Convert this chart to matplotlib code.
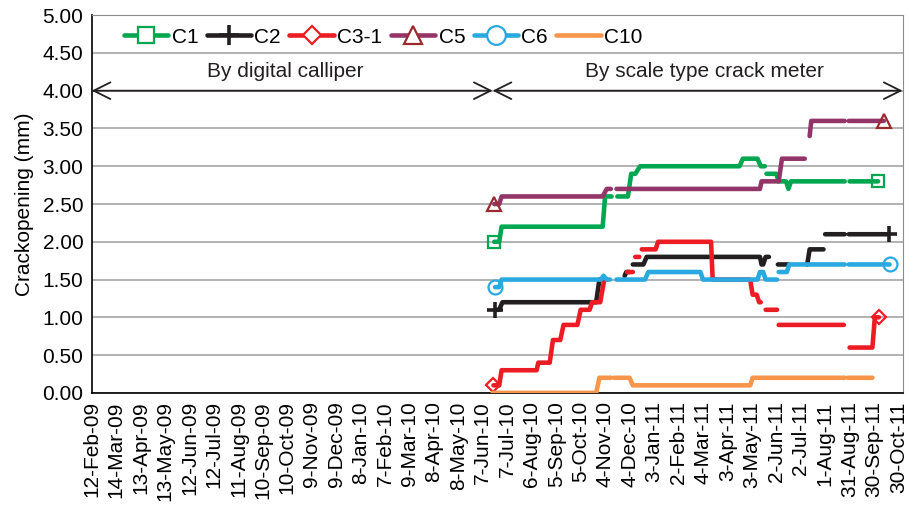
import matplotlib
matplotlib.use('Agg')
import matplotlib.pyplot as plt
from matplotlib.lines import Line2D
import numpy as np
import pandas as pd

plt.rcParams['font.family'] = ['Liberation Sans', 'DejaVu Sans']
nan = np.nan

# crack opening readings (mm), nan = no reading
c1_dates = ['2010-06-21', '2010-06-27', '2010-06-30', '2010-11-01', '2010-11-04', '2010-11-12', '2010-11-15',
            '2010-11-19', '2010-12-02', '2010-12-06', '2010-12-11', '2010-12-17', '2011-04-18', '2011-04-22',
            '2011-05-10', '2011-05-14', '2011-05-19', '2011-05-20', '2011-05-21', '2011-06-02', '2011-06-05',
            '2011-06-14', '2011-06-17', '2011-06-20', '2011-08-25', '2011-08-28', '2011-08-31', '2011-10-05']
c1_vals = [2.0, 2.0, 2.2, 2.2, 2.6, 2.6, nan, 2.6, 2.6, 2.9, 2.9, 3.0, 3.0, 3.1,
           3.1, 3.0, 3.0, nan, 2.9, 2.9, 2.8, 2.8, 2.7, 2.8, 2.8, nan, 2.8, 2.8]

c2_dates = ['2010-06-22', '2010-06-27', '2010-07-01', '2010-10-24', '2010-10-28', '2010-11-03', '2010-11-10',
            '2010-11-28', '2010-11-30', '2010-12-04', '2010-12-06', '2010-12-08', '2010-12-21', '2010-12-25',
            '2011-05-13', '2011-05-15', '2011-05-17', '2011-05-20', '2011-05-24', '2011-05-28', '2011-06-04',
            '2011-06-17', '2011-06-25', '2011-07-10', '2011-07-13', '2011-07-30', '2011-07-31', '2011-08-01',
            '2011-08-25', '2011-08-28', '2011-08-30', '2011-10-18']
c2_vals = [1.1, 1.1, 1.2, 1.2, 1.5, 1.5, nan, 1.55, 1.6, 1.6, nan, 1.7, 1.7, 1.8,
           1.8, 1.7, 1.7, 1.8, 1.8, nan, 1.7, 1.7, nan, 1.7, 1.9, 1.9, nan, 2.1,
           2.1, nan, 2.1, 2.1]

c3_dates = ['2010-06-20', '2010-06-27', '2010-06-30', '2010-08-12', '2010-08-14', '2010-08-28', '2010-09-01',
            '2010-09-10', '2010-09-14', '2010-10-01', '2010-10-05', '2010-10-16', '2010-10-19', '2010-10-29',
            '2010-11-03', '2010-11-06', '2010-11-15', '2010-12-01', '2010-12-08', '2010-12-09', '2010-12-11',
            '2010-12-16', '2010-12-17', '2010-12-19', '2011-01-05', '2011-01-08', '2011-03-14', '2011-03-16',
            '2011-05-01', '2011-05-04', '2011-05-09', '2011-05-12', '2011-05-14', '2011-05-17', '2011-05-20',
            '2011-06-03', '2011-06-04', '2011-06-05', '2011-08-24', '2011-08-28', '2011-08-31', '2011-09-28',
            '2011-10-01', '2011-10-06']
c3_vals = [0.1, 0.1, 0.3, 0.3, 0.4, 0.4, 0.7, 0.7, 0.9, 0.9, 1.1, 1.1, 1.2, 1.2,
           1.5, 1.5, nan, 1.6, 1.6, nan, 1.8, 1.8, nan, 1.9, 1.9, 2.0, 2.0, 1.5,
           1.5, 1.3, 1.3, 1.2, 1.2, nan, 1.1, 1.1, nan, 0.9, 0.9, nan, 0.6, 0.6,
           1.0, 1.0]

c5_dates = ['2010-06-21', '2010-06-27', '2010-06-30', '2010-11-01', '2010-11-06', '2010-11-11', '2010-11-14',
            '2010-11-18', '2011-05-13', '2011-05-15', '2011-06-05', '2011-06-09', '2011-07-07', '2011-07-10',
            '2011-07-13', '2011-07-15', '2011-08-25', '2011-08-28', '2011-08-30', '2011-10-12']
c5_vals = [2.5, 2.5, 2.6, 2.6, 2.7, 2.7, nan, 2.7, 2.7, 2.8, 2.8, 3.1, 3.1, nan,
           3.4, 3.6, 3.6, nan, 3.6, 3.6]

c6_dates = ['2010-06-22', '2010-06-27', '2010-06-30', '2010-10-30', '2010-11-02', '2010-11-06', '2010-11-10',
            '2010-11-14', '2010-11-18', '2010-12-23', '2010-12-27', '2011-03-01', '2011-03-04', '2011-05-10',
            '2011-05-13', '2011-05-17', '2011-05-20', '2011-06-03', '2011-06-04', '2011-06-05', '2011-06-15',
            '2011-06-18', '2011-08-25', '2011-08-28', '2011-08-30', '2011-10-19']
c6_vals = [1.4, 1.4, 1.5, 1.5, 1.55, 1.5, 1.5, nan, 1.5, 1.5, 1.6, 1.6, 1.5, 1.5,
           1.6, 1.6, 1.5, 1.5, nan, 1.6, 1.6, 1.7, 1.7, nan, 1.7, 1.7]

c10_dates = ['2010-06-19', '2010-10-24', '2010-10-28', '2010-11-11', '2010-11-13', '2010-11-15', '2010-12-04',
             '2010-12-08', '2011-05-01', '2011-05-04', '2011-08-25', '2011-08-28', '2011-08-29', '2011-09-28']
c10_vals = [0.0, 0.0, 0.2, 0.2, nan, 0.2, 0.2, 0.1, 0.1, 0.2, 0.2, nan, 0.2, 0.2]

names = ['C1', 'C2', 'C3-1', 'C5', 'C6', 'C10']
colors = ['#00A650', '#231F20', '#ED1C24', '#94356A', '#29A9E0', '#F7964A']
edge_colors = ['#00A650', '#231F20', '#ED1C24', '#9B2A30', '#29A9E0', '#F7964A']
markers = ['s', '+', 'D', '^', 'o', None]
msizes = [9, 11, 7, 10, 10, 0]
mews = [1.6, 2.6, 1.6, 1.6, 1.6, 1.6]

all_dates = [c1_dates, c2_dates, c3_dates, c5_dates, c6_dates, c10_dates]
all_vals = [c1_vals, c2_vals, c3_vals, c5_vals, c6_vals, c10_vals]

start = pd.Timestamp('2009-02-12')
switch = pd.Timestamp('2010-06-19')
tick_dates = pd.date_range(start, periods=34, freq='30D')
tick_labels = [f"{d.day}-{d.strftime('%b-%y')}" for d in tick_dates]

fig = plt.figure(figsize=(9.08, 5.05), dpi=100)
ax = fig.add_axes([0.101, 0.222, 0.893, 0.748])

for i in range(len(names)):
    d = pd.to_datetime(all_dates[i])
    v = all_vals[i]
    n = len(v)
    ax.plot(d, v, color=colors[i], lw=3.3, solid_capstyle='round', solid_joinstyle='round',
            marker=markers[i], markevery=[0, n - 1], ms=msizes[i], mfc='none',
            mec=edge_colors[i], mew=mews[i], zorder=3 + i)

ax.set_ylim(0, 5)
ax.set_yticks(np.arange(0, 5.01, 0.5))
ax.set_yticklabels([f'{t:.2f}' for t in np.arange(0, 5.01, 0.5)], fontsize=15)
ax.set_xlim(start, start + pd.Timedelta(days=995))
ax.set_xticks(tick_dates)
ax.set_xticklabels(tick_labels, rotation=90, fontsize=15)
ax.tick_params(length=0, pad=6)
ax.grid(axis='y', color='#A6A6A6', lw=1.2)
ax.set_axisbelow(True)
for s in ['top', 'right']:
    ax.spines[s].set_color('#8C8C8C')
ax.spines['left'].set_linewidth(1.2)
ax.spines['bottom'].set_linewidth(1.2)
ax.set_ylabel('Crackopening (mm)', fontsize=15, labelpad=6)

# measurement method arrows
arrow = dict(arrowstyle='<->,head_length=0.8,head_width=0.4', lw=1.3, color='#231F20',
             mutation_scale=15, shrinkA=0, shrinkB=0)
ax.annotate('', xy=(start, 4.0), xytext=(switch, 4.0), arrowprops=arrow)
ax.annotate('', xy=(switch, 4.0), xytext=(start + pd.Timedelta(days=995), 4.0), arrowprops=arrow)
ax.text(pd.Timestamp('2009-10-07'), 4.26, 'By digital calliper', fontsize=15, ha='center', va='center',
        color='#231F20')
ax.text(pd.Timestamp('2011-03-06'), 4.26, 'By scale type crack meter', fontsize=15, ha='center',
        va='center', color='#231F20')

handles = []
for i in range(len(names)):
    handles.append(Line2D([], [], color=colors[i], lw=3.3, marker=markers[i], ms=msizes[i] * 1.35,
                          mfc='white', mec=edge_colors[i], mew=mews[i], solid_capstyle='round'))
ax.legend(handles, names, loc='upper left', bbox_to_anchor=(0.024, 1.0), ncol=6, frameon=False,
          fontsize=15, handlelength=2.15, handletextpad=0.15, columnspacing=0.4, borderaxespad=0.2)

fig.savefig('out.png', dpi=100)
